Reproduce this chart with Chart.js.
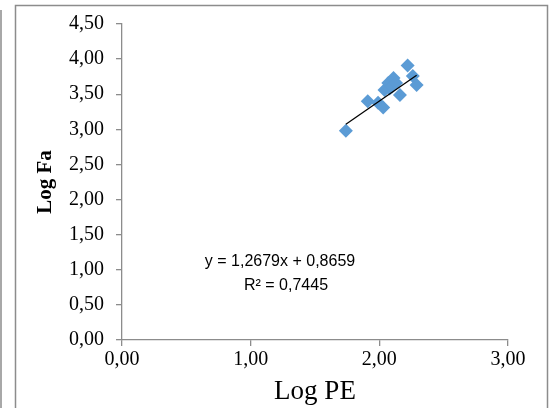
<!DOCTYPE html>
<html>
<head>
<meta charset="utf-8">
<script src="https://cdn.jsdelivr.net/npm/chart.js@4/dist/chart.umd.min.js"></script>
<style>
  html, body { margin: 0; padding: 0; background: #fff; }
  #wrap { width: 553px; height: 408px; position: relative; }
</style>
</head>
<body>
<div id="wrap"><canvas id="canvas" width="553" height="408"></canvas></div>
<script>
// data
const logPE = [1.74, 1.91, 1.99, 2.03, 2.04, 2.07, 2.08, 2.10, 2.11, 2.13, 2.16, 2.22, 2.26, 2.29];
const logFa = [2.98, 3.40, 3.38, 3.31, 3.56, 3.66, 3.58, 3.61, 3.73, 3.66, 3.49, 3.91, 3.76, 3.63];
const slope = 1.2679;
const intercept = 0.8659;
const eqLines = ["y = 1,2679x + 0,8659", "R² = 0,7445"];
const xTicks = [0, 1, 2, 3];
const yTicks = [0, 0.5, 1, 1.5, 2, 2.5, 3, 3.5, 4, 4.5];

const points = logPE.map((x, i) => ({ x: x, y: logFa[i] }));
const xMin = Math.min(...logPE);
const xMax = Math.max(...logPE);
const trend = [
  { x: xMin, y: slope * xMin + intercept },
  { x: xMax, y: slope * xMax + intercept },
];

const fmt = (v) => v.toFixed(2).replace(".", ",");
const serif = "'Liberation Serif', 'Times New Roman', serif";

// frame lines + equation text
const decor = {
  id: "decor",
  beforeDraw(chart) {
    const c = chart.ctx;
    c.save();
    c.fillStyle = "#fff";
    c.fillRect(0, 0, chart.width, chart.height);
    c.strokeStyle = "#8c8c8c";
    c.lineWidth = 1.5;
    c.beginPath();
    c.moveTo(1, 10);
    c.lineTo(1, 408);
    c.moveTo(15.5, 408);
    c.lineTo(15.5, 5.5);
    c.lineTo(547.5, 5.5);
    c.lineTo(547.5, 408);
    c.stroke();
    c.restore();
  },
  afterDraw(chart) {
    const c = chart.ctx;
    c.save();
    c.fillStyle = "#000";
    c.font = "16px 'Liberation Sans', Arial, sans-serif";
    c.textAlign = "center";
    c.textBaseline = "middle";
    c.fillText(eqLines[0], 280, 262);
    c.fillText(eqLines[1], 286, 286);
    c.restore();
  },
};

new Chart(document.getElementById("canvas").getContext("2d"), {
  type: "scatter",
  data: {
    datasets: [
      {
        label: "Log Fa",
        data: points,
        pointStyle: "rectRot",
        pointRadius: 7,
        backgroundColor: "#5b9bd5",
        borderColor: "#5b9bd5",
        borderWidth: 0,
        order: 2,
      },
      {
        type: "line",
        label: "trend",
        data: trend,
        borderColor: "#000",
        borderWidth: 1.3,
        pointRadius: 0,
        fill: false,
        order: 1,
      },
    ],
  },
  options: {
    responsive: false,
    animation: false,
    layout: { padding: { left: 30, right: 45, top: 20, bottom: 0 } },
    plugins: {
      legend: { display: false },
      tooltip: { enabled: false },
    },
    scales: {
      x: {
        type: "linear",
        min: 0,
        max: 3,
        afterBuildTicks: (s) => { s.ticks = xTicks.map((v) => ({ value: v })); },
        afterFit: (s) => { s.height = 68; },
        grid: { display: true, drawOnChartArea: false, drawTicks: true, tickLength: 6, tickColor: "#8c8c8c", lineWidth: 1.3 },
        border: { color: "#8c8c8c", width: 1.3 },
        ticks: {
          color: "#000",
          padding: 2,
          font: { family: serif, size: 20 },
          callback: (v) => fmt(v),
        },
        title: {
          display: true,
          text: "Log PE",
          color: "#000",
          padding: 0,
          font: { family: serif, size: 27 },
        },
      },
      y: {
        min: 0,
        max: 4.5,
        afterBuildTicks: (s) => { s.ticks = yTicks.map((v) => ({ value: v })); },
        afterFit: (s) => { s.width = 92; },
        grid: { display: true, drawOnChartArea: false, drawTicks: true, tickLength: 6, tickColor: "#8c8c8c", lineWidth: 1.3 },
        border: { color: "#8c8c8c", width: 1.3 },
        ticks: {
          color: "#000",
          padding: 12,
          font: { family: serif, size: 20 },
          callback: (v) => fmt(v),
        },
        title: {
          display: true,
          text: "Log Fa",
          color: "#000",
          padding: { top: 3, bottom: 0 },
          font: { family: serif, size: 21, weight: "bold" },
        },
      },
    },
  },
  plugins: [decor],
});
</script>
</body>
</html>
